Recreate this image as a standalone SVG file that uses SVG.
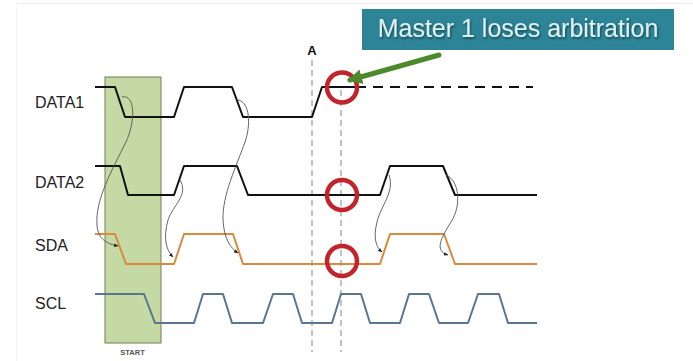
<svg xmlns="http://www.w3.org/2000/svg" width="693" height="361" viewBox="0 0 693 361">
<style>
.lbl{font-family:"Liberation Sans",Arial,sans-serif;font-size:16px;fill:#222}
.sig{fill:none;stroke-width:2;stroke-linejoin:round}
.d{stroke:#111}
.sda{stroke:#d98a3c}
.scl{stroke:#5b7490}
.vd{stroke:#9a9a9a;stroke-width:1.2;stroke-dasharray:6 4;fill:none}
.cur{fill:none;stroke:#555;stroke-width:0.9}
.ring{fill:none;stroke:#c1252b;stroke-width:4.5}
</style>
<defs>
<marker id="ah" viewBox="0 0 10 10" refX="9" refY="5" markerWidth="5" markerHeight="5" orient="auto">
<path d="M0,1 L10,5 L0,9 z" fill="#222"/>
</marker>
<marker id="gh" viewBox="0 0 10 10" refX="8" refY="5" markerWidth="3" markerHeight="3" orient="auto">
<path d="M0,0 L10,5 L0,10 z" fill="#4d8a2b"/>
</marker>
<filter id="sh" x="-5%" y="-20%" width="110%" height="140%">
<feDropShadow dx="1" dy="1.5" stdDeviation="1" flood-color="#0b3540" flood-opacity="0.8"/>
</filter>
</defs>
<rect width="693" height="361" fill="#fff"/>
<line x1="16" y1="3.5" x2="693" y2="3.5" stroke="#f4e6e6" stroke-width="1"/>
<line x1="16.5" y1="3" x2="16.5" y2="361" stroke="#f7f2f2" stroke-width="1"/>

<g id="start">
<rect x="105" y="77" width="56" height="266" fill="#c5d9a4" stroke="#6f7f55" stroke-width="1"/>
<text x="132.5" y="355" text-anchor="middle" style="font-family:'Liberation Sans',Arial,sans-serif;font-size:7.5px;font-weight:bold;fill:#555">START</text>
</g>

<g id="labels">
<text class="lbl" x="35" y="108">DATA1</text>
<text class="lbl" x="35" y="188">DATA2</text>
<text class="lbl" x="35" y="251">SDA</text>
<text class="lbl" x="35" y="309">SCL</text>
<text x="312" y="55" text-anchor="middle" style="font-family:'Liberation Sans',Arial,sans-serif;font-size:13px;font-weight:bold;fill:#111">A</text>
</g>

<g id="markers">
<line class="vd" x1="312" y1="60" x2="312" y2="352"/>
<line class="vd" x1="341" y1="90" x2="341" y2="352"/>
</g>

<g id="data1">
<path class="sig d" d="M95,87 L115,87 L125,117 L174,117 L184,87 L232,87 L243,117 L312,117 L322,87 L356,87"/>
<line x1="356" y1="87" x2="533" y2="87" stroke="#111" stroke-width="2" stroke-dasharray="10 7"/>
</g>
<g id="data2">
<path class="sig d" d="M95,166 L120,166 L128,195 L174,195 L184,166 L237,166 L248,195 L380,195 L390,166 L443,166 L455,195 L537,195"/>
</g>
<g id="sda">
<path class="sig sda" d="M95,234 L115,234 L126,264 L174,264 L184,234 L233,234 L243,264 L380,264 L390,234 L444,234 L455,264 L537,264"/>
</g>
<g id="scl">
<path class="sig scl" d="M95,294 L144,294 L155,323 L194,323 L203,294 L223,294 L232,323 L263,323 L273,294 L293,294 L302,323 L332,323 L341,294 L361,294 L370,323 L400,323 L409,294 L429,294 L439,323 L468,323 L478,294 L499,294 L508,323 L537,323"/>
</g>

<g id="connectors">
<path class="cur" marker-end="url(#ah)" d="M122,97 C135,94 136,120 126,142 C112,170 95,200 97,225 C98,240 108,244 118,246"/>
<path class="cur" marker-end="url(#ah)" d="M180,180 C189,195 173,205 168,220 C163,238 166,250 173,257"/>
<path class="cur" marker-end="url(#ah)" d="M238,100 C250,102 251,125 245,142 C237,165 222,195 223,220 C224,238 230,248 238,253"/>
<path class="cur" marker-end="url(#ah)" d="M389,175 C395,192 381,205 377,222 C373,238 376,247 382,252"/>
<path class="cur" marker-end="url(#ah)" d="M446,175 C459,180 462,205 451,222 C441,238 434,251 448,255"/>
</g>

<g id="rings">
<circle class="ring" cx="342" cy="87.5" r="15"/>
<circle class="ring" cx="342" cy="195" r="15"/>
<circle class="ring" cx="342" cy="261" r="15"/>
</g>

<g id="callout">
<rect x="362" y="9" width="312" height="41" fill="#2e8497"/>
<text x="518" y="37" text-anchor="middle" filter="url(#sh)" style="font-family:'Liberation Sans',Arial,sans-serif;font-size:25px;fill:#dcf2f1">Master 1 loses arbitration</text>
<line x1="439" y1="55" x2="350" y2="80" stroke="#4d8a2b" stroke-width="5" stroke-linecap="round" marker-end="url(#gh)"/>
</g>
</svg>
